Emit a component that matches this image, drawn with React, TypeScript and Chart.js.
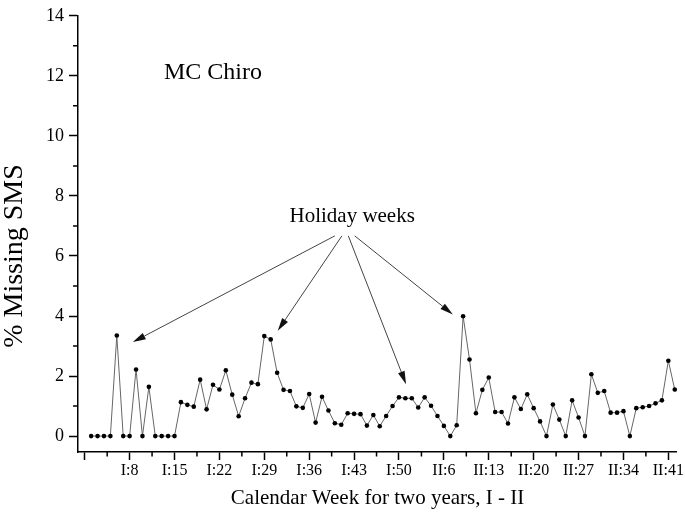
import { useEffect, useRef } from 'react';
import { Chart, registerables } from 'chart.js';

Chart.register(...registerables);

// Categories: calendar weeks over two years (I, II)
const weeksYearI: string[] = Array.from({ length: 50 }, (_, i) => `I:${i + 2}`);
const weeksYearII: string[] = Array.from({ length: 42 }, (_, i) => `II:${i + 1}`);
const weeks: string[] = [...weeksYearI, ...weeksYearII];

// % Missing SMS per week
const missingSms: number[] = [
  0, 0, 0, 0, 3.35, 0, 0, 2.22, 0, 1.64,
  0, 0, 0, 0, 1.13, 1.04, 0.98, 1.88, 0.89, 1.71,
  1.55, 2.19, 1.38, 0.66, 1.26, 1.78, 1.73, 3.33, 3.22, 2.11,
  1.54, 1.5, 0.99, 0.94, 1.4, 0.45, 1.31, 0.85, 0.43, 0.38,
  0.76, 0.74, 0.73, 0.35, 0.7, 0.33, 0.67, 1.0, 1.29, 1.26,
  1.26, 0.95, 1.29, 1.01, 0.67, 0.34, 0, 0.36, 3.99, 2.55,
  0.76, 1.54, 1.95, 0.8, 0.8, 0.42, 1.29, 0.9, 1.39, 0.93,
  0.49, 0, 1.05, 0.55, 0, 1.19, 0.62, 0, 2.06, 1.44,
  1.5, 0.78, 0.78, 0.83, 0, 0.93, 0.96, 1.0, 1.09, 1.19,
  2.51, 1.55,
];

const xTickLabels: string[] = [
  'I:8', 'I:15', 'I:22', 'I:29', 'I:36', 'I:43', 'I:50',
  'II:6', 'II:13', 'II:20', 'II:27', 'II:34', 'II:41',
];
const yTickValues: number[] = [0, 2, 4, 6, 8, 10, 12, 14];
const yMinorValues: number[] = [1, 3, 5, 7, 9, 11, 13];

const yTitle = '% Missing SMS';
const xTitle = 'Calendar Week for two years, I - II';
const panelLabel = 'MC Chiro';
const annotationText = 'Holiday weeks';
// annotation anchor and arrow ends in data coordinates (x = week index, y = %)
const annotationAnchor = { x: 40.7, y: 7.32 };
const arrowStarts = [
  { x: 38.0, y: 6.67 },
  { x: 39.1, y: 6.67 },
  { x: 40.1, y: 6.67 },
  { x: 41.1, y: 6.67 },
];
const arrowTips = [
  { x: 6.5, y: 3.13 },
  { x: 29.1, y: 3.51 },
  { x: 49.1, y: 1.73 },
  { x: 56.4, y: 4.05 },
];
const panelAnchor = { x: 11.35, y: 12.12 };
// y title centre in value units of the y scale
const yTitleCenterValue = 6.0;

const FONT = "'Liberation Serif', 'Times New Roman', serif";

const majorIdx: number[] = [-1, ...xTickLabels.map((l) => weeks.indexOf(l))];
const minorIdx: number[] = majorIdx.map((v) => v + 3.5);

const overlayPlugin = {
  id: 'overlay',
  afterDraw(chart: any) {
    const ctx = chart.ctx as CanvasRenderingContext2D;
    const xs = chart.scales.x;
    const ys = chart.scales.y;
    const area = chart.chartArea;
    ctx.save();
    // minor ticks
    ctx.strokeStyle = '#000';
    ctx.lineWidth = 1.5;
    ctx.beginPath();
    minorIdx.forEach((v) => {
      if (v < xs.min || v > xs.max) return;
      const px = xs.getPixelForValue(v);
      ctx.moveTo(px, area.bottom);
      ctx.lineTo(px, area.bottom + 4.5);
    });
    yMinorValues.forEach((v) => {
      const py = ys.getPixelForValue(v);
      ctx.moveTo(area.left, py);
      ctx.lineTo(area.left - 5, py);
    });
    ctx.stroke();

    // texts
    ctx.fillStyle = '#000';
    ctx.textBaseline = 'middle';
    ctx.font = `24px ${FONT}`;
    ctx.textAlign = 'left';
    ctx.fillText(panelLabel, xs.getPixelForValue(panelAnchor.x), ys.getPixelForValue(panelAnchor.y));
    ctx.font = `21px ${FONT}`;
    ctx.textAlign = 'center';
    ctx.fillText(annotationText, xs.getPixelForValue(annotationAnchor.x), ys.getPixelForValue(annotationAnchor.y));

    // y axis title
    ctx.save();
    ctx.translate(15, ys.getPixelForValue(yTitleCenterValue));
    ctx.rotate(-Math.PI / 2);
    ctx.font = `28px ${FONT}`;
    ctx.textAlign = 'center';
    ctx.textBaseline = 'middle';
    ctx.fillText(yTitle, 0, 0);
    ctx.restore();

    // arrows
    ctx.strokeStyle = '#444';
    ctx.fillStyle = '#111';
    ctx.lineWidth = 1;
    arrowTips.forEach((tip, i) => {
      const s = arrowStarts[i];
      const x0 = xs.getPixelForValue(s.x);
      const y0 = ys.getPixelForValue(s.y);
      const x1 = xs.getPixelForValue(tip.x);
      const y1 = ys.getPixelForValue(tip.y);
      const ang = Math.atan2(y1 - y0, x1 - x0);
      const len = 13;
      const half = 3.5;
      const bx = x1 - len * Math.cos(ang);
      const by = y1 - len * Math.sin(ang);
      ctx.beginPath();
      ctx.moveTo(x0, y0);
      ctx.lineTo(bx, by);
      ctx.stroke();
      ctx.beginPath();
      ctx.moveTo(x1, y1);
      ctx.lineTo(bx + half * Math.sin(ang), by - half * Math.cos(ang));
      ctx.lineTo(bx - half * Math.sin(ang), by + half * Math.cos(ang));
      ctx.closePath();
      ctx.fill();
    });
    ctx.restore();
  },
};

export default function App() {
  const canvasRef = useRef<HTMLCanvasElement | null>(null);

  useEffect(() => {
    if (!canvasRef.current) return;
    const chart = new Chart(canvasRef.current, {
      type: 'line',
      data: {
        datasets: [
          {
            data: missingSms.map((v, i) => ({ x: i, y: v })),
            borderColor: '#666',
            borderWidth: 1,
            pointRadius: 2.3,
            pointBackgroundColor: '#000',
            pointBorderWidth: 0,
            tension: 0,
          },
        ],
      },
      options: {
        animation: false,
        responsive: true,
        maintainAspectRatio: false,
        layout: { padding: { top: 10, right: 8, left: 0, bottom: 0 } },
        plugins: { legend: { display: false }, tooltip: { enabled: false }, title: { display: false } },
        scales: {
          x: {
            type: 'linear',
            min: -2.05,
            max: 91.35,
            afterBuildTicks: (scale: any) => {
              scale.ticks = majorIdx.map((v) => ({ value: v }));
            },
            afterFit: (scale: any) => {
              scale.height = 67;
            },
            ticks: {
              autoSkip: false,
              maxRotation: 0,
              padding: 1,
              color: '#000',
              font: { family: FONT, size: 16 },
              callback: (value: any) => {
                const l = weeks[Number(value)];
                return l && xTickLabels.includes(l) ? l : '';
              },
            },
            grid: { drawOnChartArea: false, drawTicks: true, tickLength: 8, tickColor: '#000', tickWidth: 1.5 },
            border: { display: true, color: '#000', width: 1.5 },
            title: {
              display: true,
              text: xTitle,
              color: '#000',
              font: { family: FONT, size: 21 },
              padding: { top: 0, bottom: 8 },
            },
          },
          y: {
            type: 'linear',
            min: -0.53,
            max: 14,
            afterBuildTicks: (scale: any) => {
              scale.ticks = yTickValues.map((v) => ({ value: v }));
            },
            afterFit: (scale: any) => {
              scale.width = 78;
            },
            ticks: {
              padding: 5,
              color: '#000',
              font: { family: FONT, size: 18 },
            },
            grid: { drawOnChartArea: false, drawTicks: true, tickLength: 9, tickColor: '#000', tickWidth: 1.5 },
            border: { display: true, color: '#000', width: 1.5 },
            title: { display: false },
          },
        },
      },
      plugins: [overlayPlugin],
    });
    return () => chart.destroy();
  }, []);

  return (
    <div style={{ position: 'fixed', left: 0, top: 0, width: 685, height: 519, background: '#fff' }}>
      <canvas ref={canvasRef} />
    </div>
  );
}
